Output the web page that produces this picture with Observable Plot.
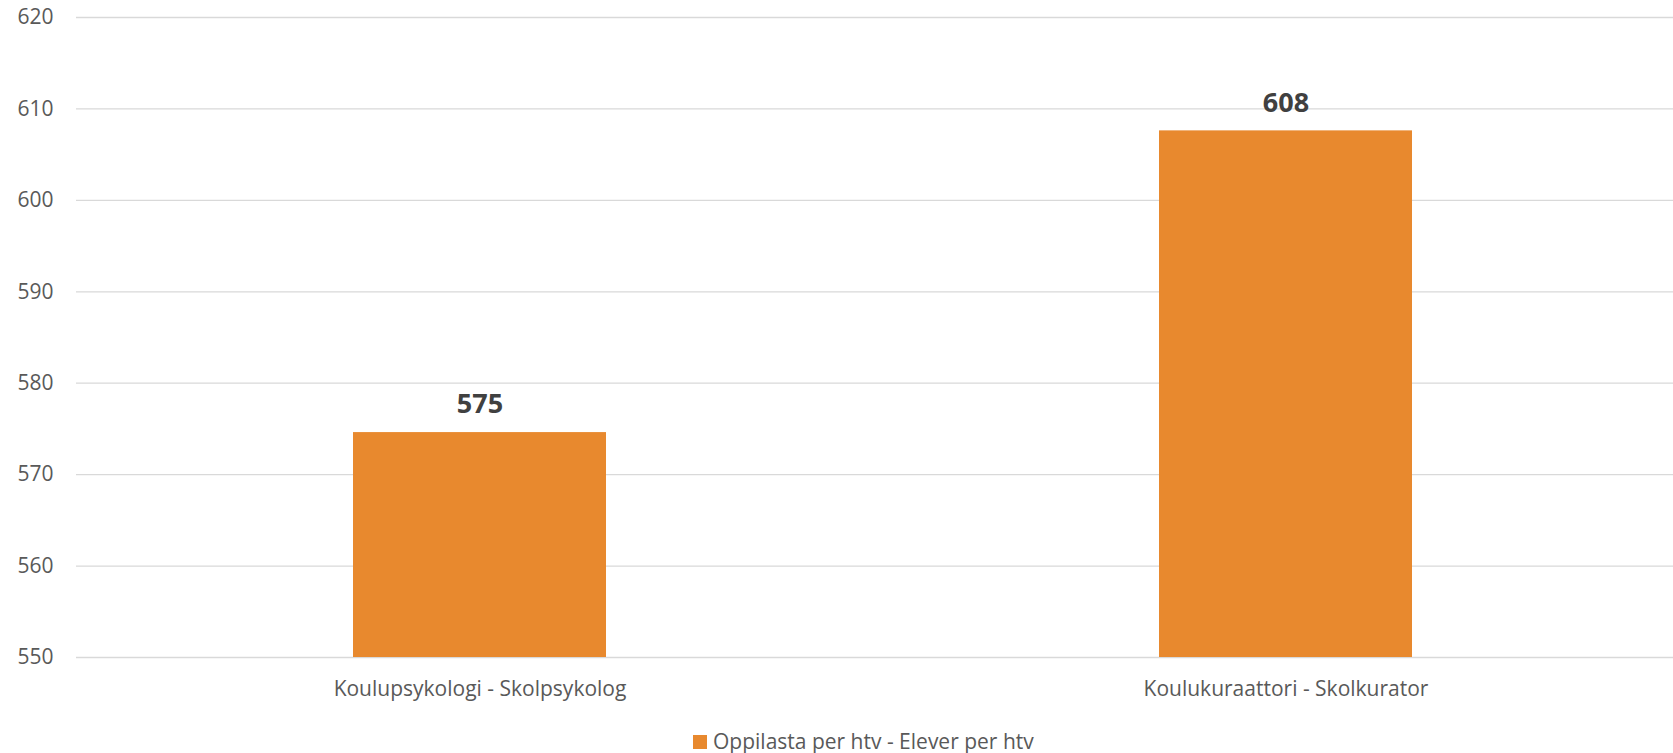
<!DOCTYPE html>
<html>
<head>
<meta charset="utf-8">
<script src="https://cdn.jsdelivr.net/npm/d3@7"></script>
<script src="https://cdn.jsdelivr.net/npm/@observablehq/plot@0.6"></script>
<style>
  html, body { margin: 0; padding: 0; background: #fff; }
  body { width: 1673px; height: 753px; position: relative; overflow: hidden; font-family: "Open Sans", sans-serif; }
  #legend { position: absolute; left: 693px; top: 727px; display: flex; align-items: center; font-size: 21px; line-height: 28px; color: #595959; white-space: nowrap; }
  #legend .sw { width: 14px; height: 14px; background: #E8892E; margin-right: 6px; margin-top: 2px; }
</style>
</head>
<body>
<div id="chart"></div>
<div id="legend"><span class="sw"></span><span>Oppilasta per htv - Elever per htv</span></div>
<script>
const categories = ["Koulupsykologi - Skolpsykolog", "Koulukuraattori - Skolkurator"];
const values = [574.6, 607.6];
const yTicks = [550, 560, 570, 580, 590, 600, 610, 620];
const seriesName = "Oppilasta per htv - Elever per htv";

const data = categories.map((c, i) => ({category: c, value: values[i]}));

const chart = Plot.plot({
  width: 1673,
  height: 710,
  marginLeft: 76,
  marginRight: 0,
  marginTop: 17,
  marginBottom: 53,
  style: {fontFamily: "'Open Sans', sans-serif", background: "#fff"},
  x: {domain: categories, range: [76, 1689], paddingInner: 0.686, paddingOuter: 0.343, label: null},
  y: {domain: [550, 620], ticks: yTicks, label: null},
  marks: [
    Plot.gridY(yTicks, {stroke: "#D9D9D9", strokeOpacity: 1, strokeWidth: 1.3}),
    Plot.barY(data, {x: "category", y: "value", fill: "#E8892E", clip: true}),
    Plot.text(data, {x: "category", y: "value", text: d => d3.format(".0f")(d.value), dy: -28, fontSize: 27, fontWeight: "bold", fill: "#404040"}),
    Plot.axisY({ticks: yTicks, tickSize: 0, tickPadding: 23, fontSize: 21, fill: "#595959", label: null}),
    Plot.axisX({tickSize: 0, tickPadding: 24, fontSize: 21, fill: "#595959", label: null})
  ]
});
document.getElementById("chart").appendChild(chart);
</script>
</body>
</html>
